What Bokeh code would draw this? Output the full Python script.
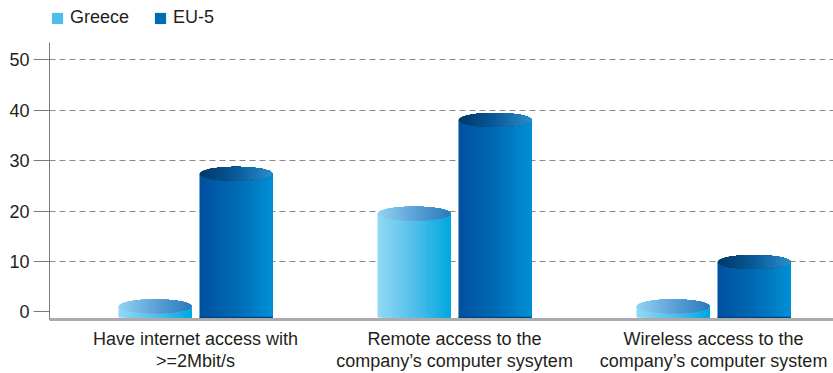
import numpy as np
from bokeh.plotting import figure
from bokeh.models import FixedTicker, Legend, LegendItem, Range1d, ColumnDataSource
from bokeh.embed import file_html
from bokeh.resources import INLINE

# ---------------- data ----------------
categories = [
    "Have internet access with\n>=2Mbit/s",
    "Remote access to the\ncompany’s computer sysytem",
    "Wireless access to the\ncompany’s computer system",
]
series_names = ["Greece", "EU-5"]
greece = [1.1, 19.5, 1.1]
eu5 = [27.4, 38.1, 9.9]
y_ticks = [0, 10, 20, 30, 40, 50]

# ---------------- styles ----------------
FONT = "Liberation Sans"
TEXT = "#231f20"
FS = "18px"
BAR_W = 0.282
OFFSET = 0.1564
BASE = -1.1          # bottom of the cylinders
CAP_H = 1.39         # half-height of the cylinder top ellipse (data units)
N = 40               # strips used to build gradients
Y_START, Y_END, AXIS_TOP = -1.51, 61.8, 53.47

body_grad = {
    "Greece": ["#93d9f6", "#52bfea", "#00a8df"],
    "EU-5": ["#00509f", "#006ab4", "#0090d5"],
}
cap_grad = {
    "Greece": ["#93d3f1", "#5da2d8", "#2a7bbd"],
    "EU-5": ["#003868", "#0a5a98", "#2a8ecd"],
}


def hex2rgb(h):
    h = h.lstrip("#")
    return np.array([int(h[i:i + 2], 16) for i in (0, 2, 4)], dtype=float)


def grad(stops, t):
    stops = [hex2rgb(s) for s in stops]
    seg = t * (len(stops) - 1)
    i = min(int(seg), len(stops) - 2)
    f = seg - i
    c = stops[i] * (1 - f) + stops[i + 1] * f
    return "#%02x%02x%02x" % tuple(int(round(v)) for v in c)


p = figure(
    width=833, height=373,
    x_range=Range1d(-0.5637, 2.4633),
    y_range=Range1d(Y_START, Y_END),
    output_backend="svg", toolbar_location=None,
    min_border_left=49, min_border_right=0, min_border_top=0, min_border_bottom=40,
)
p.outline_line_color = None
p.background_fill_color = "white"
p.border_fill_color = "white"

# ---------------- cylinders ----------------
body_renderers = {}
cap_xs, cap_ys, cap_col = [], [], []
base_x0, base_x1, base_y = [], [], []

for name, vals, off in (("Greece", greece, -OFFSET), ("EU-5", eu5, OFFSET)):
    body = dict(left=[], right=[], top=[], bottom=[], color=[])
    for i, v in enumerate(vals):
        cx = i + off
        x0 = cx - BAR_W / 2
        x1 = cx + BAR_W / 2
        w = BAR_W / N
        for k in range(N):
            t = (k + 0.5) / N
            body["left"].append(x0 + k * w)
            body["right"].append(x1)
            body["top"].append(v)
            body["bottom"].append(BASE)
            body["color"].append(grad(body_grad[name], t))
            us = np.linspace(-1 + 2 * k / N, 1, 2 * (N - k) + 2)
            xs_top = cx + us * BAR_W / 2
            hs = CAP_H * np.sqrt(np.clip(1 - us ** 2, 0, 1))
            cap_xs.append([float(a) for a in xs_top] + [float(a) for a in xs_top[::-1]])
            cap_ys.append([float(a) for a in (v + hs)] + [float(a) for a in (v - hs)[::-1]])
            cap_col.append(grad(cap_grad[name], t))
        if name == "EU-5":
            base_x0.append(x0)
            base_x1.append(x1)
            base_y.append(BASE)
    body_renderers[name] = p.quad(left="left", right="right", top="top", bottom="bottom",
                                  fill_color="color", line_color=None,
                                  source=ColumnDataSource(body))

p.patches(xs=cap_xs, ys=cap_ys, fill_color=cap_col, line_color=None)
p.segment(x0=base_x0, y0=base_y, x1=base_x1, y1=base_y, line_color="#00408a", line_width=1.5)

# ---------------- axes / grid ----------------
p.xgrid.visible = False
p.ygrid.ticker = FixedTicker(ticks=[t for t in y_ticks if t > 0])
p.ygrid.grid_line_color = "#8a8a8a"
p.ygrid.grid_line_dash = "6 4"
p.ygrid.grid_line_width = 1

p.yaxis.ticker = FixedTicker(ticks=y_ticks)
p.yaxis.bounds = (Y_START, AXIS_TOP)
p.yaxis.major_tick_out = 16
p.yaxis.major_tick_in = 0
p.yaxis.minor_tick_line_color = None
p.yaxis.axis_line_color = "#7a7a7a"
p.yaxis.major_tick_line_color = "#7a7a7a"
p.yaxis.major_label_text_font = FONT
p.yaxis.major_label_text_font_size = FS
p.yaxis.major_label_text_color = TEXT
p.yaxis.major_label_standoff = 4

p.xaxis.ticker = FixedTicker(ticks=list(range(len(categories))))
p.xaxis.major_label_overrides = {i: c for i, c in enumerate(categories)}
p.xaxis.major_tick_line_color = None
p.xaxis.minor_tick_line_color = None
p.xaxis.axis_line_color = "#ababab"
p.xaxis.axis_line_width = 3
p.xaxis.major_label_text_font = FONT
p.xaxis.major_label_text_font_size = FS
p.xaxis.major_label_text_line_height = 1.1
p.xaxis.major_label_text_color = TEXT
p.xaxis.major_label_standoff = 3

# ---------------- legend ----------------
items = [LegendItem(label=name, renderers=[body_renderers[name]], index=N // 2)
         for name in series_names]
legend = Legend(items=items, orientation="horizontal", location=(1, 291))
legend.border_line_color = None
legend.background_fill_alpha = 0
legend.label_text_font = FONT
legend.label_text_font_size = FS
legend.label_text_color = TEXT
legend.glyph_width = 14
legend.glyph_height = 14
legend.label_standoff = 6
legend.spacing = 24
legend.padding = 0
legend.margin = 0
p.add_layout(legend)

open("out.html", "w").write(file_html(p, INLINE))
